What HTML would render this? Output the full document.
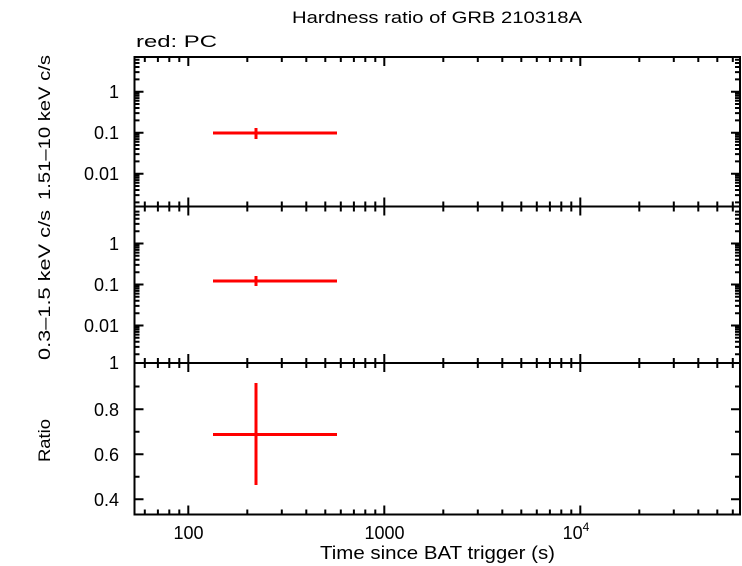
<!DOCTYPE html>
<html><head><style>body{margin:0;background:#fff}svg{display:block;font-family:"Liberation Sans",sans-serif}</style></head>
<body>
<svg width="742" height="566" xmlns="http://www.w3.org/2000/svg">
<defs>
<path id="xd" d="M144.8 0v5M157.9 0v5M169.3 0v5M179.3 0v5M188.3 0v9M247.3 0v5M281.8 0v5M306.3 0v5M325.3 0v5M340.8 0v5M353.9 0v5M365.3 0v5M375.3 0v5M384.3 0v9M443.3 0v5M477.8 0v5M502.3 0v5M521.3 0v5M536.8 0v5M549.9 0v5M561.3 0v5M571.3 0v5M580.3 0v9M639.3 0v5M673.8 0v5M698.3 0v5M717.3 0v5M732.8 0v5"/>
<path id="yl" d="M0 59.8h5M0 63h5M0 67h5M0 72.1h5M0 79.4h5M0 91.7h9M0 93.6h5M0 95.7h5M0 98.1h5M0 100.8h5M0 104h5M0 108h5M0 113.1h5M0 120.4h5M0 132.7h9M0 134.6h5M0 136.7h5M0 139.1h5M0 141.8h5M0 145h5M0 149h5M0 154.1h5M0 161.4h5M0 173.7h9M0 175.6h5M0 177.7h5M0 180.1h5M0 182.8h5M0 186h5M0 190h5M0 195.1h5M0 202.4h5"/>
</defs>
<text x="292" y="23" font-size="17" textLength="290" lengthAdjust="spacingAndGlyphs">Hardness ratio of GRB 210318A</text>
<text x="136" y="47" font-size="17" textLength="81" lengthAdjust="spacingAndGlyphs">red: PC</text>
<text x="320" y="559" font-size="18" textLength="235" lengthAdjust="spacingAndGlyphs">Time since BAT trigger (s)</text>
<text transform="translate(50,200) rotate(-90)" font-size="17" textLength="145" lengthAdjust="spacingAndGlyphs">1.51–10 keV c/s</text>
<text transform="translate(50,360) rotate(-90)" font-size="17" textLength="150" lengthAdjust="spacingAndGlyphs">0.3–1.5 keV c/s</text>
<text transform="translate(50,462) rotate(-90)" font-size="17" textLength="43" lengthAdjust="spacingAndGlyphs">Ratio</text>
<g stroke="#000" stroke-width="2" fill="none">
<rect x="134.5" y="57" width="605.5" height="149.5"/>
<rect x="134.5" y="206.5" width="605.5" height="156.5"/>
<rect x="134.5" y="363" width="605.5" height="151.5"/>
<use href="#xd" transform="translate(0,57)"/>
<use href="#xd" transform="translate(0,206.5) scale(1,-1)"/>
<use href="#xd" transform="translate(0,206.5)"/>
<use href="#xd" transform="translate(0,363) scale(1,-1)"/>
<use href="#xd" transform="translate(0,363)"/>
<use href="#xd" transform="translate(0,514.5) scale(1,-1)"/>
<use href="#yl" transform="translate(134.5,0)"/>
<use href="#yl" transform="translate(740,0) scale(-1,1)"/>
<use href="#yl" transform="translate(134.5,151.8)"/>
<use href="#yl" transform="translate(740,151.8) scale(-1,1)"/>
<path d="M134.5 386.5h5M134.5 409.3h9M134.5 431.8h5M134.5 454.3h9M134.5 476.8h5M134.5 499.3h9M740 386.5h-5M740 409.3h-9M740 431.8h-5M740 454.3h-9M740 476.8h-5M740 499.3h-9"/>
</g>
<g font-size="18" text-anchor="end">
<text x="119" y="98">1</text><text x="119" y="139">0.1</text><text x="119" y="180">0.01</text>
<text x="119" y="250">1</text><text x="119" y="291">0.1</text><text x="119" y="332">0.01</text>
<text x="119" y="369">1</text><text x="119" y="416">0.8</text><text x="119" y="461">0.6</text><text x="119" y="506">0.4</text>
</g>
<g font-size="18" text-anchor="middle">
<text x="188.5" y="539">100</text><text x="384.5" y="539">1000</text><text x="576" y="539">10<tspan font-size="12" dy="-8">4</tspan></text>
</g>
<g stroke="#f00" stroke-width="3">
<line x1="213" y1="133" x2="337" y2="133"/><line x1="256" y1="128" x2="256" y2="139"/>
<line x1="213" y1="281" x2="337" y2="281"/><line x1="256" y1="276" x2="256" y2="286"/>
<line x1="213" y1="434.5" x2="337" y2="434.5"/><line x1="256" y1="383" x2="256" y2="485"/>
</g>
</svg>
</body></html>
